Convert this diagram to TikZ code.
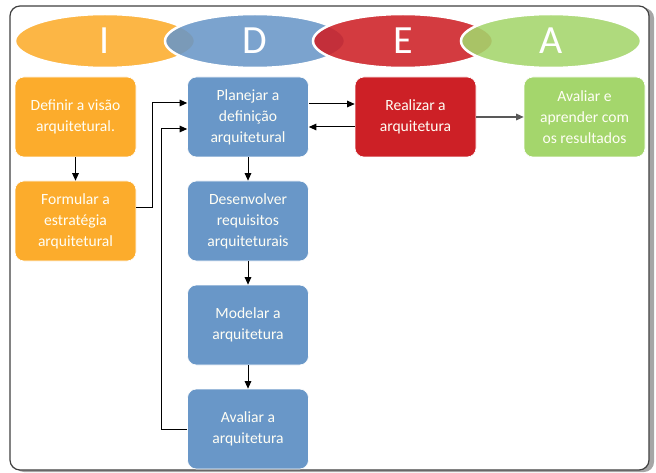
\documentclass[tikz,border=0pt]{standalone}
\usepackage{fontspec}
\setmainfont{Carlito}
\usetikzlibrary{shapes.geometric,arrows.meta}
\definecolor{cI}{RGB}{252,172,44}
\definecolor{cD}{RGB}{105,151,200}
\definecolor{cE}{RGB}{205,32,38}
\definecolor{cA}{RGB}{164,214,108}
\tikzset{
  oval/.style={ellipse, minimum width=180pt, minimum height=54pt, inner sep=0pt,
    fill=#1, fill opacity=0.88, text opacity=1, draw=white, draw opacity=1, line width=2.5pt,
    text=white, font=\fontsize{40}{40}\selectfont},
  stepbox/.style={rectangle, rounded corners=9pt, fill=#1, draw=white, line width=0.6pt,
    minimum width=121pt, minimum height=80pt, inner sep=2pt, align=center,
    text=white!96!yellow, font=\fontsize{15.6}{21}\selectfont},
  conn/.style={line width=1pt, -{Triangle[length=7.5pt,width=6.5pt]}}
}
\begin{document}
\begin{tikzpicture}[x=1pt,y=-1pt]
\useasboundingbox (0,0) rectangle (656,473);
% frame with shadow
\fill[gray!70, rounded corners=10pt] (14,8) rectangle (654,472);
\filldraw[fill=white, draw=black!75, line width=1.2pt, rounded corners=10pt] (10,6) rectangle (649,470);
% ovals
\node[oval=cI] (oI) at (105,41) {I};
\node[oval=cD] (oD) at (255,41) {D};
\node[oval=cE] (oE) at (403,41) {E};
\node[oval=cA] (oA) at (551,41) {A};
% boxes
\node[stepbox=cI] (def) at (75.5,117) {Definir a visão\\arquitetural.};
\node[stepbox=cI] (form) at (75.5,221) {Formular a\\estratégia\\arquitetural};
\node[stepbox=cD] (plan) at (248,117) {Planejar a\\definição\\arquitetural};
\node[stepbox=cD] (des) at (248,221) {Desenvolver\\requisitos\\arquiteturais};
\node[stepbox=cD] (mod) at (248,325) {Modelar a\\arquitetura};
\node[stepbox=cD] (aval) at (248,429) {Avaliar a\\arquitetura};
\node[stepbox=cE] (real) at (415.5,117) {Realizar a\\arquitetura};
\node[stepbox=cA] (apr) at (584.5,117) {Avaliar e\\aprender com\\os resultados};
% connectors
\draw[conn] (def) -- (form);
\draw[conn] (plan) -- (des);
\draw[conn] (des) -- (mod);
\draw[conn] (mod) -- (aval);
\draw[conn] ([yshift=13pt]form.east) -- ++(16,0) |- ([yshift=14pt]plan.west);
\draw[conn] (aval.west) -- ++(-26,0) |- ([yshift=-12pt]plan.west);
\draw[conn] ([yshift=13pt]plan.east) -- ([yshift=13pt]real.west);
\draw[conn] ([yshift=-10pt]real.west) -- ([yshift=-10pt]plan.east);
\draw[conn, draw=black!65, line width=1.3pt] (real) -- (apr);
\end{tikzpicture}
\end{document}
